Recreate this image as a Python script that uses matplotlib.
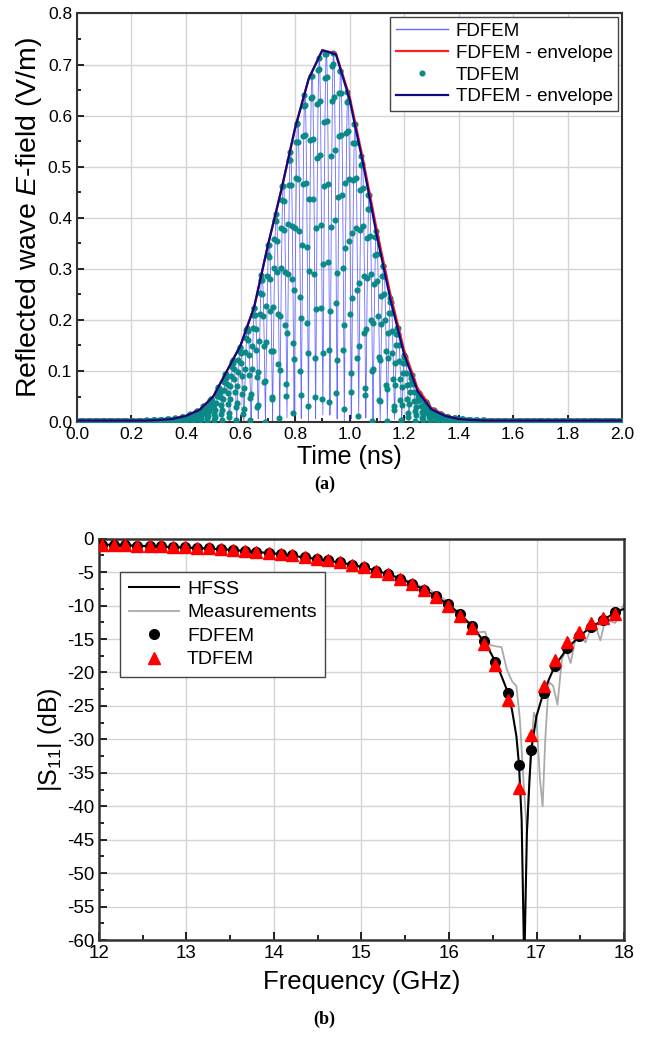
import numpy as np
import matplotlib
matplotlib.use('Agg')
from matplotlib import pyplot as plt
from matplotlib.ticker import MultipleLocator, FormatStrFormatter

plt.rcParams['font.family'] = ['Liberation Sans', 'DejaVu Sans']
plt.rcParams['mathtext.fontset'] = 'custom'
plt.rcParams['mathtext.rm'] = 'Liberation Sans'
plt.rcParams['mathtext.it'] = 'Liberation Sans:italic'
plt.rcParams['axes.unicode_minus'] = False

# ---- (a) reflected wave, envelopes every 0.05 ns
t_env = [0.00, 0.05, 0.10, 0.15, 0.20, 0.25, 0.30, 0.35, 0.40, 0.45,
         0.50, 0.55, 0.60, 0.65, 0.70, 0.75, 0.80, 0.85, 0.90, 0.95,
         1.00, 1.05, 1.10, 1.15, 1.20, 1.25, 1.30, 1.35, 1.40, 1.45,
         1.50, 1.55, 1.60, 1.65, 1.70, 1.75, 1.80, 1.85, 1.90, 1.95, 2.00]
td_env = [0.003, 0.003, 0.003, 0.003, 0.003, 0.003, 0.004, 0.006, 0.012, 0.024,
          0.050, 0.100, 0.150, 0.225, 0.345, 0.455, 0.575, 0.672, 0.728, 0.720,
          0.632, 0.505, 0.365, 0.240, 0.133, 0.060, 0.025, 0.012, 0.006, 0.004,
          0.003, 0.003, 0.003, 0.003, 0.003, 0.003, 0.003, 0.003, 0.003, 0.003, 0.003]
fd_env = [0.003, 0.003, 0.003, 0.003, 0.003, 0.003, 0.004, 0.006, 0.012, 0.024,
          0.050, 0.100, 0.150, 0.225, 0.345, 0.455, 0.575, 0.672, 0.728, 0.722,
          0.638, 0.513, 0.376, 0.250, 0.141, 0.066, 0.028, 0.013, 0.006, 0.004,
          0.003, 0.003, 0.003, 0.003, 0.003, 0.003, 0.003, 0.003, 0.003, 0.003, 0.003]
f_carrier = 19.0   # GHz
t_center = 0.915   # ns
dt_fd = 0.0004     # ns
dt_td = 0.0021     # ns

# ---- (b) |S11|
f_pts = [12.03, 12.17, 12.30, 12.44, 12.58, 12.71, 12.85, 12.98, 13.12, 13.26,
         13.39, 13.53, 13.67, 13.80, 13.94, 14.08, 14.21, 14.35, 14.49, 14.62,
         14.76, 14.89, 15.03, 15.17, 15.30, 15.44, 15.58, 15.71, 15.85, 15.99,
         16.12, 16.26, 16.40, 16.53, 16.67, 16.80, 16.94, 17.08, 17.21, 17.35,
         17.49, 17.62, 17.76, 17.90]
fdfem = [-0.9, -0.95, -1.0, -1.05, -1.1, -1.15, -1.2, -1.3, -1.35, -1.45,
         -1.55, -1.65, -1.8, -1.95, -2.1, -2.3, -2.5, -2.75, -3.0, -3.25,
         -3.55, -3.9, -4.3, -4.8, -5.3, -6.0, -6.8, -7.7, -8.6, -9.8,
         -11.3, -13.1, -15.3, -18.4, -23.1, -33.8, -31.6, -23.0, -19.0, -16.4,
         -14.6, -13.2, -12.2, -11.0]
tdfem = [-0.9, -0.95, -1.0, -1.05, -1.1, -1.15, -1.2, -1.3, -1.35, -1.45,
         -1.55, -1.65, -1.8, -1.95, -2.1, -2.3, -2.5, -2.75, -3.0, -3.25,
         -3.55, -3.9, -4.3, -4.8, -5.3, -6.0, -6.8, -7.7, -8.7, -10.0,
         -11.5, -13.3, -15.7, -18.9, -24.1, -37.3, -29.4, -22.0, -18.1, -15.5,
         -14.0, -12.6, -11.9, -11.2]
f_hfss = [12.0, 12.5, 13.0, 13.5, 14.0, 14.5, 14.8, 15.0, 15.2, 15.4,
          15.6, 15.8, 16.0, 16.15, 16.3, 16.45, 16.55, 16.65, 16.72, 16.77,
          16.80, 16.83, 16.86, 16.89, 16.92, 16.94, 17.0, 17.08, 17.15, 17.21,
          17.35, 17.49, 17.62, 17.76, 17.90, 18.0]
hfss = [-0.85, -1.08, -1.32, -1.65, -2.2, -3.05, -3.65, -4.2, -4.9, -5.75,
        -6.85, -8.2, -9.9, -11.6, -13.6, -16.4, -18.9, -22.2, -25.6, -29.5,
        -33.8, -42.0, -64.0, -44.0, -36.0, -31.6, -26.5, -23.0, -20.8, -19.0,
        -16.4, -14.6, -13.2, -12.2, -11.0, -10.5]
f_meas = [12.0, 12.5, 13.0, 13.5, 14.0, 14.5, 15.0, 15.3, 15.5, 15.6,
          15.7, 15.78, 15.85, 15.92, 16.0, 16.07, 16.13, 16.2, 16.27, 16.33,
          16.41, 16.47, 16.54, 16.6, 16.66, 16.72, 16.77, 16.81, 16.85, 16.89,
          16.93, 16.97, 17.0, 17.04, 17.07, 17.1, 17.14, 17.19, 17.24, 17.29,
          17.34, 17.39, 17.44, 17.5, 17.56, 17.62, 17.68, 17.73, 17.77, 17.83,
          17.9, 17.95, 18.0]
meas = [-0.9, -1.05, -1.3, -1.65, -2.25, -3.0, -4.3, -5.2, -6.1, -6.6,
        -7.3, -7.6, -8.3, -8.8, -9.6, -10.6, -11.0, -12.2, -12.8, -14.0,
        -13.9, -15.9, -16.1, -16.2, -19.5, -21.3, -22.0, -27.0, -36.0, -44.0,
        -33.0, -26.0, -27.0, -36.0, -40.0, -30.0, -21.4, -22.0, -24.8, -18.0,
        -16.6, -18.6, -15.3, -14.6, -15.5, -13.5, -13.3, -15.2, -13.0, -12.3,
        -12.6, -11.0, -9.8]

fig = plt.figure(figsize=(6.49, 10.37), dpi=100)

# ---------------- (a)
ax1 = fig.add_axes([0.1186, 0.593, 0.840, 0.394])
tt = np.arange(0, 2.0 + dt_fd, dt_fd)
fd_wave = np.interp(tt, t_env, fd_env) * np.abs(np.cos(2 * np.pi * f_carrier * (tt - t_center)))
ts = np.arange(0, 2.0 + dt_td, dt_td)
td_wave = np.interp(ts, t_env, td_env) * np.abs(np.cos(2 * np.pi * f_carrier * (ts - t_center) + 0.3))

ax1.plot(tt, fd_wave, color='#6a6aff', lw=0.6, label='FDFEM', zorder=2)
ax1.plot(ts, td_wave, ls='none', marker='o', ms=3.4, color='#0a8a86', label='TDFEM', zorder=3)
ax1.plot(t_env, fd_env, color='#ff2020', lw=1.6, label='FDFEM - envelope', zorder=4)
ax1.plot(t_env, td_env, color='#0c0c80', lw=1.6, label='TDFEM - envelope', zorder=5)

ax1.set_xlim(0, 2.0)
ax1.set_ylim(0, 0.8)
ax1.xaxis.set_major_locator(MultipleLocator(0.2))
ax1.xaxis.set_minor_locator(MultipleLocator(0.1))
ax1.yaxis.set_major_locator(MultipleLocator(0.1))
ax1.yaxis.set_minor_locator(MultipleLocator(0.05))
ax1.xaxis.set_major_formatter(FormatStrFormatter('%.1f'))
ax1.yaxis.set_major_formatter(FormatStrFormatter('%.1f'))
ax1.grid(True, color='#d4d4d4', lw=1.0)
ax1.set_axisbelow(True)
ax1.tick_params(which='both', direction='in', labelsize=12.5, width=1.2)
ax1.tick_params(which='major', length=5)
ax1.tick_params(which='minor', length=3)
for s in ax1.spines.values():
    s.set_linewidth(1.5)
    s.set_color('#333333')
ax1.set_xlabel('Time (ns)', fontsize=18, labelpad=2)
ax1.set_ylabel(r'Reflected wave $\it{E}$-field (V/m)', fontsize=20.5, labelpad=3)

h, l = ax1.get_legend_handles_labels()
order = [0, 2, 1, 3]
leg1 = ax1.legend([h[i] for i in order], [l[i] for i in order], loc='upper right',
                  fontsize=13.5, frameon=True, fancybox=False, edgecolor='#444444',
                  framealpha=1, handlelength=2.8, labelspacing=0.25, borderpad=0.3,
                  borderaxespad=0.2, handletextpad=0.4)
leg1.get_frame().set_linewidth(1.0)
leg1.get_lines()[0].set_linewidth(1.0)

fig.text(0.5, 1 - 484 / 1037, '(a)', ha='center', va='center', fontsize=13,
         fontweight='bold', family='Liberation Serif')

# ---------------- (b)
ax2 = fig.add_axes([0.1525, 0.0935, 0.809, 0.387])
ax2.plot(f_hfss, hfss, color='black', lw=1.5, label='HFSS', zorder=3)
ax2.plot(f_meas, meas, color='#aaaaaa', lw=1.3, label='Measurements', zorder=2)
ax2.plot(f_pts, fdfem, ls='none', marker='o', ms=7, color='black', label='FDFEM', zorder=4)
ax2.plot(f_pts, tdfem, ls='none', marker='^', ms=8, color='#ff0000', label='TDFEM', zorder=5)

ax2.set_xlim(12, 18)
ax2.set_ylim(-60, 0)
ax2.xaxis.set_major_locator(MultipleLocator(1))
ax2.xaxis.set_minor_locator(MultipleLocator(0.5))
ax2.yaxis.set_major_locator(MultipleLocator(5))
ax2.yaxis.set_minor_locator(MultipleLocator(2.5))
ax2.grid(True, color='#d4d4d4', lw=1.0)
ax2.set_axisbelow(True)
ax2.tick_params(which='both', direction='in', labelsize=13.5, width=1.2)
ax2.tick_params(which='major', length=6)
ax2.tick_params(which='minor', length=3.5)
for s in ax2.spines.values():
    s.set_linewidth(1.8)
    s.set_color('#333333')
ax2.set_xlabel('Frequency (GHz)', fontsize=18.5, labelpad=6)
ax2.set_ylabel(r'|S$_{11}$| (dB)', fontsize=18, labelpad=2)

leg2 = ax2.legend(loc='upper left', bbox_to_anchor=(0.04, 0.918), fontsize=14,
                  frameon=True, fancybox=False, edgecolor='#444444', framealpha=1,
                  handlelength=2.6, labelspacing=0.3, borderpad=0.45,
                  handletextpad=0.4, borderaxespad=0)
leg2.get_frame().set_linewidth(1.0)

fig.text(0.5, 1 - 1019 / 1037, '(b)', ha='center', va='center', fontsize=13,
         fontweight='bold', family='Liberation Serif')

fig.savefig('out.png', dpi=100)
